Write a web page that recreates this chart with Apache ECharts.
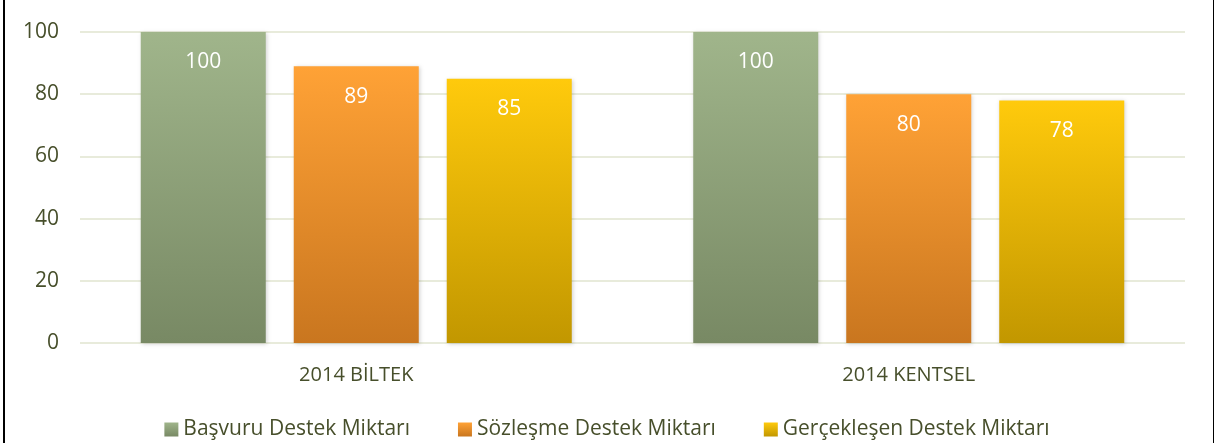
<!DOCTYPE html>
<html>
<head>
<meta charset="utf-8">
<script src="https://cdn.jsdelivr.net/npm/echarts@6/dist/echarts.min.js"></script>
<style>
  html, body { margin: 0; padding: 0; background: #fff; }
  #frame {
    position: absolute; left: 3px; top: 0; width: 1208px; height: 443px;
    border-left: 2px solid #000; border-right: 2px solid #000;
  }
  #chart { position: absolute; left: 0; top: 0; width: 1214px; height: 443px; }
</style>
</head>
<body>
<div id="frame"></div>
<div id="chart"></div>
<script>
const categories = ['2014 BİLTEK', '2014 KENTSEL']
const seriesNames = ['Başvuru Destek Miktarı', 'Sözleşme Destek Miktarı', 'Gerçekleşen Destek Miktarı']
const basvuru = [100, 100]
const sozlesme = [89, 80]
const gerceklesen = [85, 78]

const textColor = '#474f2b'
const fontFamily = 'Open Sans, Noto Sans, sans-serif'

const grad = (top, bottom) => new echarts.graphic.LinearGradient(0, 0, 0, 1, [
  { offset: 0, color: top },
  { offset: 1, color: bottom }
])

const colors = [
  grad('#a0b58b', '#788964'),
  grad('#ffa236', '#c9761f'),
  grad('#ffca0c', '#c29700')
]

const chart = echarts.init(document.getElementById('chart'))

const makeSeries = (name, data, i) => ({
  name,
  type: 'bar',
  data,
  barWidth: 125,
  barGap: '22.4%',
  itemStyle: {
    color: colors[i],
    shadowColor: 'rgba(0,0,0,0.18)',
    shadowBlur: 4,
    shadowOffsetX: 1,
    shadowOffsetY: 1
  },
  label: {
    show: true,
    position: 'insideTop',
    distance: 20,
    color: '#fff',
    fontSize: 21,
    fontFamily
  }
})

chart.setOption({
  animation: false,
  grid: { left: 80, right: 29, top: 32, bottom: 100 },
  legend: {
    bottom: -2,
    left: 'center',
    itemWidth: 14,
    itemHeight: 14,
    itemGap: 48,
    icon: 'rect',
    textStyle: { color: textColor, fontSize: 21, fontFamily },
    data: seriesNames
  },
  xAxis: {
    type: 'category',
    data: categories,
    axisLine: { show: false },
    axisTick: { show: false },
    axisLabel: { color: textColor, fontSize: 20, fontFamily, margin: 22 }
  },
  yAxis: {
    type: 'value',
    min: 0,
    max: 100,
    interval: 20,
    axisLine: { show: false },
    axisTick: { show: false },
    axisLabel: { color: textColor, fontSize: 21, fontFamily, margin: 21 },
    splitLine: { lineStyle: { color: '#e8ebdb', width: 2 } }
  },
  series: [
    makeSeries(seriesNames[0], basvuru, 0),
    makeSeries(seriesNames[1], sozlesme, 1),
    makeSeries(seriesNames[2], gerceklesen, 2)
  ]
})
</script>
</body>
</html>
